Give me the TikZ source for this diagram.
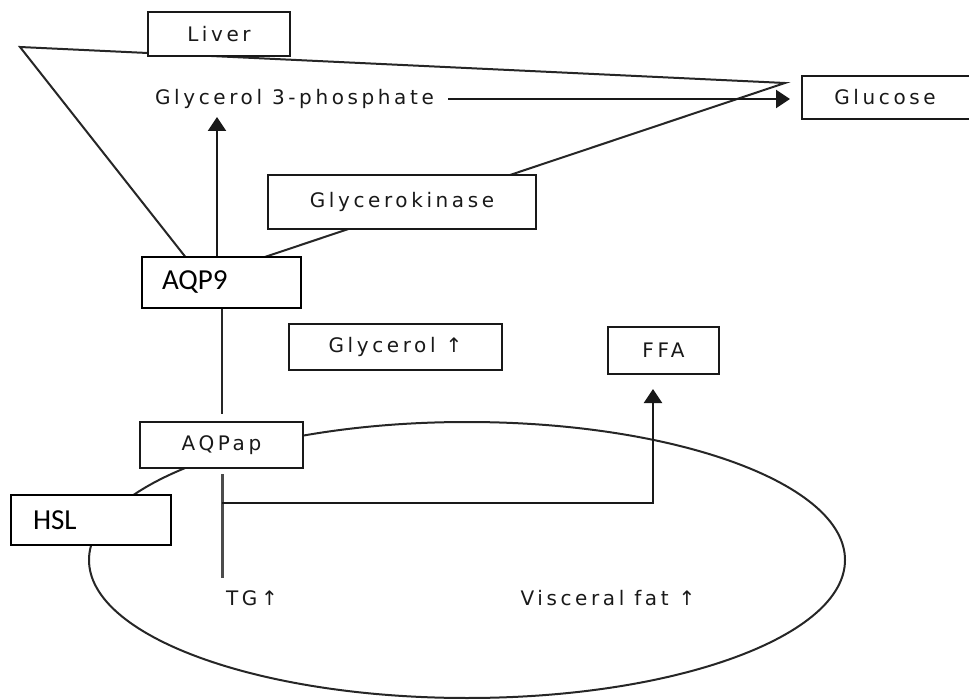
\documentclass[tikz,border=0pt]{standalone}
\usepackage{fontspec}
\newfontfamily\vfont[LetterSpace=18]{DejaVu Sans}
\newfontfamily\cfont{Carlito}
\usetikzlibrary{arrows.meta}
\definecolor{linecol}{gray}{0.15}
\definecolor{txtcol}{gray}{0.1}
\tikzset{
  smalltxt/.style={font=\vfont\fontsize{20}{24}\selectfont, text=txtcol, inner sep=0pt},
  box/.style={draw=black!90, line width=2pt, fill=white, inner sep=0pt, smalltxt},
  bigbox/.style={draw=black, line width=2.8pt, fill=white, inner sep=0pt,
    font=\cfont\fontsize{29}{34}\selectfont, align=left},
  thinline/.style={draw=linecol, line width=2pt},
  vline/.style={draw=linecol, line width=2.4pt},
  arr/.style={draw=black!90, line width=2.4pt, -{Triangle[length=14pt,width=18pt]}},
}
\begin{document}
\begin{tikzpicture}[x=1pt,y=-1pt]
\useasboundingbox (0,0) rectangle (969,700);
\clip (0,0) rectangle (969,700);
% triangle (liver)
\coordinate (tl) at (20,47);
\coordinate (tr) at (785,83);
\coordinate (tb) at (202,278);
\draw[thinline, line join=miter] (tl) -- (tr) -- (tb) -- cycle;
% visceral fat ellipse
\coordinate (ec) at (467,560);
\draw[thinline] (ec) ellipse [x radius=378pt, y radius=138pt];

% text nodes
\node[smalltxt] (g3p) at (294.5,99) {Glycerol 3-phosphate};
\node[smalltxt] (tg) at (252,598) {TG↑};
\node[smalltxt] (vf) at (608,598) {Visceral fat ↑};

% boxes
\node[box, minimum width=188pt, minimum height=43pt] (glc) at (896,97.5) {\hspace*{-22pt}Glucose};
\node[box, minimum width=142pt, minimum height=44pt] (liver) at (219,34) {Liver};
\node[box, minimum width=268pt, minimum height=54pt] (gk) at (402,202) {Glycerokinase};
\node[bigbox, minimum width=159pt, minimum height=51pt, text width=119pt] (aqp9) at (221.5,282.5) {AQP9};
\node[box, minimum width=213pt, minimum height=46pt] (gly) at (395.5,347) {Glycerol ↑};
\node[box, minimum width=111pt, minimum height=47pt] (ffa) at (663.5,350.5) {FFA};
\node[box, minimum width=163pt, minimum height=46pt] (aqpap) at (221.5,445) {AQPap};
\node[bigbox, minimum width=160pt, minimum height=50pt, text width=116pt] (hsl) at (91,520) {HSL};

% connectors
\coordinate (tipA) at (217,117);
\draw[arr] (aqp9.north -| tipA) -- (tipA);
\coordinate (g3pend) at (448,99);
\coordinate (tipG) at (790,99);
\draw[arr] (g3pend) -- (tipG);
\draw[vline, shorten >=7pt] ([xshift=0.5pt]aqp9.south) -- ([xshift=0.5pt]aqpap.north);
\coordinate (tgtop) at (222,578);
\coordinate (br) at (222,503);
\coordinate (ffatip) at (653,389);
\draw[vline, line width=3pt, draw=gray!60!black, shorten <=5pt] (aqpap.south -| tgtop) -- (tgtop);
\draw[arr, line width=2.2pt] (br) -| (ffatip);
\end{tikzpicture}
\end{document}
